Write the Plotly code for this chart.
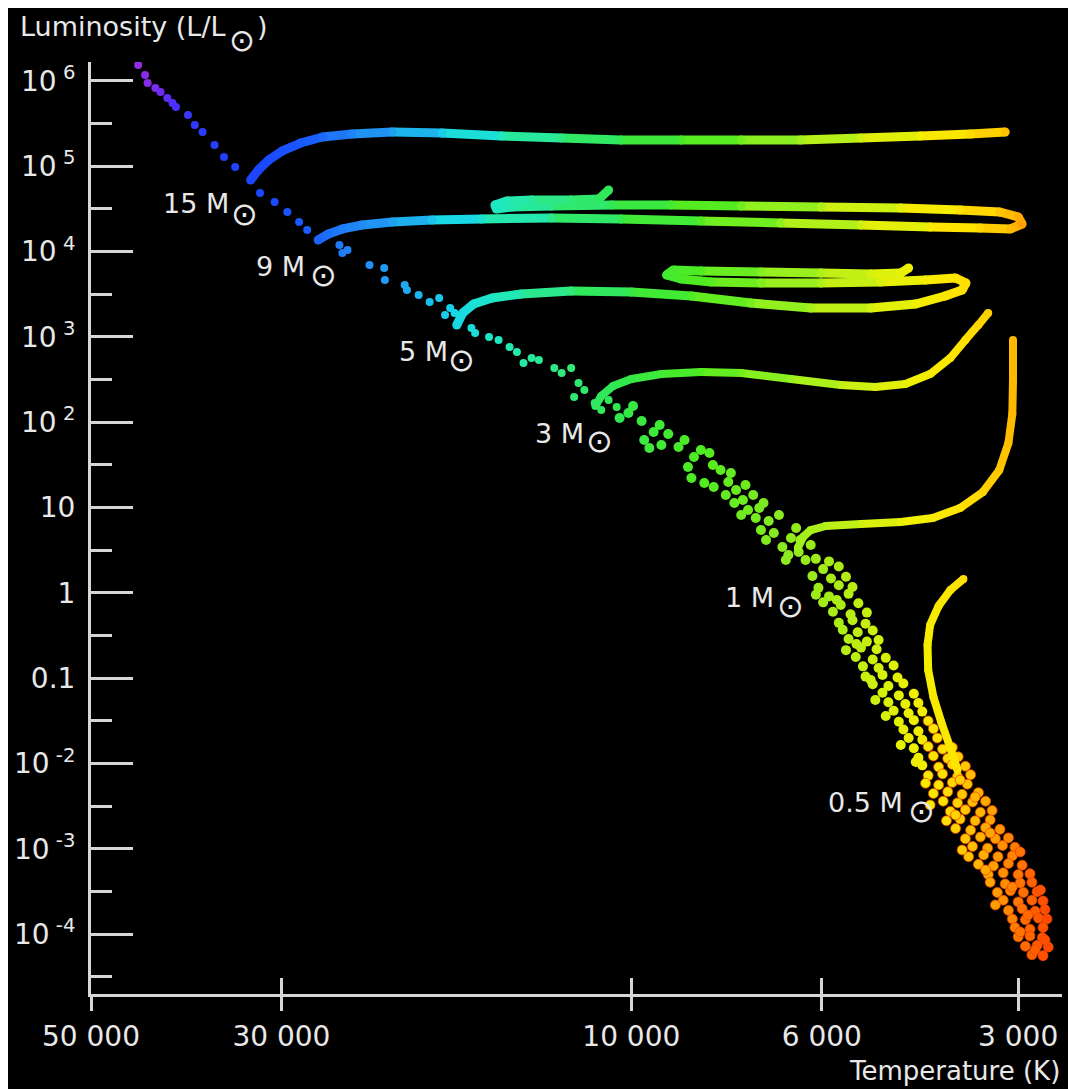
import numpy as np
import plotly.graph_objects as go

# ---------------- axis ticks ----------------
TEMP_TICKS = [50000, 30000, 10000, 6000, 3000]
TEMP_TICK_LABELS = ["50 000", "30 000", "10 000", "6 000", "3 000"]
LUM_TICKS = [1e6, 1e5, 1e4, 1e3, 1e2, 10, 1, 0.1, 1e-2, 1e-3, 1e-4]
LUM_TICK_LABELS = ["10<sup> 6</sup>", "10<sup> 5</sup>", "10<sup> 4</sup>", "10<sup> 3</sup>",
                   "10<sup> 2</sup>", "10", "1", "0.1", "10<sup> -2</sup>", "10<sup> -3</sup>",
                   "10<sup> -4</sup>"]

# ---------------- main sequence stars: (log10 Teff [K], log10 L/Lsun) ----------------
MS_UPPER = [
    (4.648, 6.270), (4.644, 6.188), (4.636, 6.070), (4.633, 5.977), (4.624, 5.918),
    (4.618, 5.871), (4.610, 5.801), (4.604, 5.742), (4.600, 5.695), (4.586, 5.602),
    (4.578, 5.484), (4.569, 5.402), (4.555, 5.250), (4.544, 5.109), (4.531, 4.992),
    (4.502, 4.688), (4.485, 4.582), (4.469, 4.465), (4.453, 4.348), (4.442, 4.254),
    (4.398, 4.078), (4.394, 3.984), (4.387, 4.019), (4.357, 3.844), (4.337, 3.809),
    (4.336, 3.668), (4.309, 3.609), (4.306, 3.551), (4.290, 3.492), (4.275, 3.410),
    (4.262, 3.457), (4.247, 3.340), (4.254, 3.258), (4.241, 3.281), (4.218, 3.105),
    (4.213, 3.047), (4.194, 3.000), (4.181, 2.965), (4.166, 2.883), (4.156, 2.824),
    (4.147, 2.695), (4.136, 2.754), (4.126, 2.730), (4.105, 2.637), (4.095, 2.578),
    (4.082, 2.637), (4.072, 2.461), (4.078, 2.297), (4.064, 2.379), (4.050, 2.226),
    (4.041, 2.144), (4.031, 2.262), (4.020, 2.180),
]
MS_MIDDLE = [
    (4.016, 2.051), (4.004, 2.109), (3.998, 2.191), (3.988, 2.016), (3.985, 1.793),
    (3.974, 1.887), (3.967, 1.969), (3.957, 1.863), (3.965, 1.734), (3.945, 1.711),
    (3.938, 1.793), (3.930, 1.348), (3.934, 1.476), (3.927, 1.594), (3.919, 1.676),
    (3.909, 1.641), (3.915, 1.289), (3.904, 1.242), (3.896, 1.441), (3.884, 1.406),
    (3.890, 1.148), (3.880, 1.055), (3.878, 1.207), (3.867, 1.266), (3.870, 1.090),
    (3.864, 0.973), (3.858, 1.148), (3.855, 0.879), (3.846, 1.055), (3.840, 0.844),
    (3.849, 0.738), (3.834, 0.703), (3.828, 0.914), (3.843, 0.621), (3.824, 0.539),
    (3.814, 0.644), (3.808, 0.762), (3.805, 0.480), (3.797, 0.387), (3.791, 0.562),
    (3.820, 0.387), (3.979, 1.699), (3.905, 1.500), (3.887, 1.301), (3.872, 0.914),
    (3.851, 0.996), (3.817, 0.445), (3.803, 0.621),
]
MS_LOWER = [
    (3.785, 0.40), (3.767, 0.37), (3.776, 0.28), (3.752, 0.31),
    (3.789, 0.20), (3.764, 0.17), (3.741, 0.19), (3.782, 0.06), (3.752, 0.09), (3.731, 0.07),
    (3.785, -0.02), (3.767, -0.04), (3.737, -0.01), (3.776, -0.11), (3.749, -0.14), (3.722, -0.12),
    (3.761, -0.22), (3.734, -0.25), (3.709, -0.23), (3.752, -0.35), (3.731, -0.32), (3.711, -0.36),
    (3.746, -0.43), (3.723, -0.46), (3.700, -0.44), (3.737, -0.54), (3.709, -0.57), (3.691, -0.55),
    (3.741, -0.67), (3.718, -0.64), (3.694, -0.66), (3.726, -0.75), (3.700, -0.78), (3.680, -0.76),
    (3.715, -0.86), (3.691, -0.88), (3.668, -0.85), (3.711, -0.98), (3.685, -0.96), (3.662, -0.99),
    (3.700, -1.07), (3.676, -1.09), (3.653, -1.06), (3.685, -1.17), (3.660, -1.20), (3.637, -1.18),
    (3.676, -1.28), (3.650, -1.30), (3.630, -1.29), (3.668, -1.38), (3.645, -1.41), (3.624, -1.39),
    (3.660, -1.51), (3.637, -1.49), (3.615, -1.50), (3.653, -1.60), (3.630, -1.62), (3.607, -1.59),
    (3.645, -1.70), (3.624, -1.72), (3.601, -1.70),
    (3.637, -1.82), (3.615, -1.80), (3.593, -1.83), (3.578, -1.81),
    (3.630, -1.93), (3.607, -1.91), (3.585, -1.94), (3.569, -1.92),
    (3.624, -2.02), (3.599, -2.04), (3.578, -2.01), (3.558, -2.03),
    (3.615, -2.14), (3.593, -2.12), (3.570, -2.15), (3.550, -2.13),
    (3.619, -2.23), (3.599, -2.25), (3.578, -2.22), (3.555, -2.24),
    (3.607, -2.35), (3.585, -2.33), (3.563, -2.36), (3.538, -2.34),
    (3.592, -2.44), (3.570, -2.46), (3.547, -2.45), (3.527, -2.44),
    (3.581, -2.56), (3.558, -2.54), (3.535, -2.57), (3.517, -2.55),
    (3.587, -2.67), (3.566, -2.65), (3.543, -2.67), (3.520, -2.66),
    (3.573, -2.76), (3.550, -2.78), (3.527, -2.75), (3.505, -2.77),
    (3.558, -2.88), (3.535, -2.86), (3.512, -2.88), (3.492, -2.87),
    (3.547, -2.97), (3.524, -2.99), (3.501, -2.96), (3.482, -2.98),
    (3.553, -3.09), (3.530, -3.07), (3.508, -3.09), (3.486, -3.08),
    (3.538, -3.18), (3.515, -3.20), (3.492, -3.17), (3.471, -3.19),
    (3.523, -3.30), (3.500, -3.28), (3.477, -3.30), (3.459, -3.29),
    (3.520, -3.39), (3.497, -3.41), (3.474, -3.40), (3.456, -3.39),
    (3.509, -3.51), (3.489, -3.49), (3.469, -3.51), (3.448, -3.50),
    (3.500, -3.60), (3.477, -3.62), (3.456, -3.60), (3.439, -3.61),
    (3.492, -3.72), (3.471, -3.70), (3.451, -3.73), (3.436, -3.71),
    (3.486, -3.82), (3.466, -3.83), (3.446, -3.81), (3.433, -3.82),
    (3.482, -3.92), (3.459, -3.94), (3.439, -3.92),
    (3.477, -4.03), (3.459, -4.02), (3.440, -4.04),
    (3.466, -4.14), (3.448, -4.13), (3.431, -4.15),
    (3.456, -4.24), (3.439, -4.25),
    (3.755, -0.082), (3.725, -0.598), (3.703, -1.020), (3.680, -1.442), (3.657, -1.782),
    (3.634, -1.981), (3.566, -2.192), (3.543, -2.391), (3.573, -2.602), (3.520, -2.813),
    (3.563, -3.012), (3.474, -3.035), (3.527, -3.246), (3.486, -3.446), (3.443, -3.481),
    (3.512, -3.656), (3.462, -3.774), (3.474, -3.973), (3.451, -4.184), (3.436, -4.067),
    (3.696, -1.254), (3.612, -2.485),
]

# ---------------- evolutionary tracks (log10 Teff, log10 L) ----------------
TRACK_15_LOGT = [4.513, 4.504, 4.492, 4.476, 4.451, 4.421, 4.381, 4.326, 4.258, 4.177,
                 4.095, 4.014, 3.942, 3.872, 3.803, 3.718, 3.627, 3.550, 3.497]
TRACK_15_LOGL = [4.840, 4.957, 5.074, 5.180, 5.273, 5.344, 5.379, 5.402, 5.391, 5.355,
                 5.332, 5.309, 5.309, 5.309, 5.309, 5.332, 5.355, 5.379, 5.402]

TRACK_9_LOGT = [4.427, 4.413, 4.394, 4.367, 4.326, 4.272, 4.204, 4.109, 4.014, 3.919,
                3.826, 3.718, 3.612, 3.535, 3.489, 3.471, 3.477, 3.505, 3.566, 3.657,
                3.779, 3.872, 3.954, 4.027, 4.109, 4.163, 4.184, 4.186, 4.170, 4.136,
                4.082, 4.044, 4.031]
TRACK_9_LOGL = [4.137, 4.207, 4.266, 4.312, 4.348, 4.371, 4.383, 4.395, 4.383, 4.359,
                4.336, 4.312, 4.289, 4.277, 4.266, 4.324, 4.406, 4.465, 4.488, 4.512,
                4.523, 4.535, 4.547, 4.547, 4.535, 4.523, 4.500, 4.547, 4.594, 4.605,
                4.605, 4.617, 4.723]

TRACK_5_LOGT = [4.238, 4.230, 4.215, 4.190, 4.150, 4.082, 4.000, 3.930, 3.861, 3.791,
                3.703, 3.634, 3.589, 3.563, 3.557, 3.573, 3.619, 3.688, 3.779, 3.849,
                3.907, 3.942, 3.959, 3.951, 3.919, 3.849, 3.779, 3.703, 3.657, 3.645]
TRACK_5_LOGL = [3.141, 3.281, 3.387, 3.457, 3.504, 3.539, 3.527, 3.480, 3.398, 3.340,
                3.340, 3.387, 3.480, 3.551, 3.633, 3.691, 3.668, 3.644, 3.633, 3.633,
                3.644, 3.680, 3.727, 3.785, 3.773, 3.762, 3.750, 3.738, 3.750, 3.809]

TRACK_3_LOGT = [4.049, 4.041, 4.025, 4.000, 3.965, 3.919, 3.872, 3.814, 3.749, 3.696,
                3.650, 3.612, 3.581, 3.558, 3.538, 3.523]
TRACK_3_LOGL = [2.191, 2.309, 2.426, 2.508, 2.566, 2.590, 2.578, 2.508, 2.437, 2.414,
                2.449, 2.566, 2.754, 2.965, 3.141, 3.281]

TRACK_1_LOGT = [3.806, 3.800, 3.791, 3.772, 3.718, 3.657, 3.608, 3.566, 3.531, 3.506,
                3.492, 3.486, 3.485, 3.485]
TRACK_1_LOGL = [0.527, 0.656, 0.738, 0.785, 0.809, 0.832, 0.879, 0.996, 1.184, 1.441,
                1.758, 2.098, 2.496, 2.965]

TRACK_05_LOGT = [3.561, 3.581, 3.599, 3.612, 3.616, 3.615, 3.607, 3.595, 3.581, 3.570]
TRACK_05_LOGL = [0.164, 0.035, -0.152, -0.375, -0.610, -0.902, -1.219, -1.512, -1.817, -2.074]

MASS_LABELS = ["15 M", "9 M", "5 M", "3 M", "1 M", "0.5 M"]

# ---------------- style / layout constants ----------------
OFFSET = 8                      # page body margin (left / top) of the html page
W, H = 1060, 1081
ML, MR, MT, MB = 80, 6, 54, 95
PW, PH = W - ML - MR, H - MT - MB
# schematic temperature axis: position (axis units) of each labelled temperature tick
TICK_POS = [0, 191, 542, 733, 930]
Y_RANGE = [-4.6995, 6.2226]
AXIS_COL = "#d6d6d6"
TEXT_COL = "#e8e8e8"
FONT = "DejaVu Sans"

# colour scales (log10 Teff -> colour)
STAR_CS = [(3.43, "#ff4800"), (3.48, "#ff7c00"), (3.53, "#ffb000"), (3.59, "#ffe200"),
           (3.64, "#eef000"), (3.70, "#ccf010"), (3.76, "#a8ec18"), (3.83, "#88ea20"),
           (3.92, "#50ec20"), (4.02, "#30e850"), (4.10, "#30e880"), (4.18, "#20e8c0"),
           (4.24, "#18d8e8"), (4.31, "#20a8f0"), (4.39, "#2080f8"), (4.44, "#1a5cff"),
           (4.50, "#1a48ff"), (4.57, "#2a3cff"), (4.60, "#4a30ff"), (4.624, "#7a2cf0"),
           (4.65, "#9b2ee0")]
TRACK_CS = [(3.46, "#ff9000"), (3.485, "#ffb800"), (3.50, "#ffc400"), (3.53, "#ffd400"),
            (3.57, "#ffe400"), (3.63, "#f2f000"), (3.70, "#d8f010"), (3.76, "#b8f018"),
            (3.83, "#90f020"), (3.92, "#50ec20"), (4.02, "#30e850"), (4.10, "#30e880"),
            (4.18, "#20e8c0"), (4.24, "#18d8e8"), (4.31, "#20a8f0"), (4.39, "#2080f8"),
            (4.44, "#1a5cff"), (4.50, "#1a48ff"), (4.57, "#2a3cff")]


def hex_rgb(h):
    h = h.lstrip("#")
    return [int(h[i:i + 2], 16) for i in (0, 2, 4)]


def color_of(logt, cs):
    xs = [c[0] for c in cs]
    rgb = np.array([hex_rgb(c[1]) for c in cs], dtype=float)
    r, g, b = (np.interp(logt, xs, rgb[:, k]) for k in range(3))
    return f"rgb({int(r)},{int(g)},{int(b)})"


def temp_axis(logt):
    """Map log10 T onto the (non-uniform) temperature axis of the original figure."""
    xp = -np.log10(np.array(TEMP_TICKS, dtype=float))
    fp = np.array(TICK_POS, dtype=float)
    v = -np.asarray(logt, dtype=float)
    out = np.interp(v, xp, fp)
    hi = v > xp[-1]
    out[hi] = fp[-1] + (v[hi] - xp[-1]) * (fp[-1] - fp[-2]) / (xp[-1] - xp[-2])
    lo = v < xp[0]
    out[lo] = fp[0] + (v[lo] - xp[0]) * (fp[1] - fp[0]) / (xp[1] - xp[0])
    return out


def paper(px, py):
    return (px - OFFSET - ML) / PW, (H - MB - (py - OFFSET)) / PH


fig = go.Figure()

# main-sequence dots (cool stars get a faint orange glow rim)
for pts, size in ((MS_UPPER, 8), (MS_MIDDLE, 10), (MS_LOWER, 10)):
    lt = np.array([p[0] for p in pts])
    ll = np.array([p[1] for p in pts])
    rims = ["rgba(235,70,0,0.75)" if t < 3.62 else "rgba(0,0,0,0)" for t in lt]
    fig.add_trace(go.Scatter(
        x=temp_axis(lt), y=10 ** ll, mode="markers", hoverinfo="skip", showlegend=False,
        marker=dict(size=size, color=[color_of(t, STAR_CS) for t in lt],
                    line=dict(width=1, color=rims))))

# evolutionary tracks drawn as colour-graded segments
tracks = [
    (TRACK_15_LOGT, TRACK_15_LOGL, 9),
    (TRACK_9_LOGT, TRACK_9_LOGL, 9),
    (TRACK_5_LOGT, TRACK_5_LOGL, 9),
    (TRACK_3_LOGT, TRACK_3_LOGL, 8),
    (TRACK_1_LOGT, TRACK_1_LOGL, 8),
    (TRACK_05_LOGT, TRACK_05_LOGL, 8),
]
for lt, ll, w in tracks:
    lt = np.array(lt)
    ll = np.array(ll)
    xs = temp_axis(lt)
    ys = 10 ** ll
    for i in range(len(lt) - 1):
        fig.add_trace(go.Scatter(
            x=[xs[i], xs[i + 1]], y=[ys[i], ys[i + 1]], mode="lines",
            line=dict(color=color_of((lt[i] + lt[i + 1]) / 2, TRACK_CS), width=w),
            hoverinfo="skip", showlegend=False))
    fig.add_trace(go.Scatter(
        x=xs, y=ys, mode="markers", hoverinfo="skip", showlegend=False,
        marker=dict(size=w, color=[color_of(t, TRACK_CS) for t in lt], line=dict(width=0))))

# dummy trace so the overlay axis (inner half of x ticks) is drawn
fig.add_trace(go.Scatter(x=[TICK_POS[0]], y=[1e-9], xaxis="x2", mode="markers",
                         marker=dict(opacity=0), hoverinfo="skip", showlegend=False))

annotations = []


def add_text(text, px, py, size, xanchor="left"):
    x, y = paper(px, py)
    annotations.append(dict(text=text, x=x, y=y, xref="paper", yref="paper",
                            xanchor=xanchor, yanchor="middle", showarrow=False,
                            font=dict(family=FONT, size=size, color=TEXT_COL)))


add_text("Luminosity (L/L", 15, 27, 27)
add_text("⊙", 239, 40, 31, "center")
add_text(")", 253, 27, 27)
add_text("Temperature (K)", 1062, 1071, 26, "right")

LABEL_TEXT_POS = [(228, 204), (305, 266), (448, 352), (585, 433), (775, 597), (905, 802)]
LABEL_SUN_POS = [(242, 214), (321, 275), (460, 360), (598, 441), (790, 606), (921, 811)]
for lab, (tx, ty), (sx, sy) in zip(MASS_LABELS, LABEL_TEXT_POS, LABEL_SUN_POS):
    add_text(lab, tx, ty, 27, "right")
    add_text("⊙", sx, sy, 32, "center")

tickfont = dict(family=FONT, size=28, color=TEXT_COL)
fig.update_layout(
    width=W, height=H,
    margin=dict(l=ML, r=MR, t=MT, b=MB, pad=0),
    paper_bgcolor="black", plot_bgcolor="black",
    showlegend=False,
    annotations=annotations,
    xaxis=dict(range=[0, PW], tickmode="array", tickvals=TICK_POS, ticktext=TEMP_TICK_LABELS,
               ticks="outside", ticklen=14, tickwidth=3, tickcolor=AXIS_COL,
               showline=True, linecolor=AXIS_COL, linewidth=3, showgrid=False, zeroline=False,
               tickfont=tickfont, ticklabelstandoff=1, fixedrange=True),
    xaxis2=dict(range=[0, PW], overlaying="x", anchor="y", side="bottom", tickmode="array",
                tickvals=TICK_POS, ticks="inside", ticklen=16, tickwidth=3, tickcolor=AXIS_COL,
                showticklabels=False, showline=False, showgrid=False, zeroline=False),
    yaxis=dict(type="log", range=Y_RANGE, tickmode="array", tickvals=LUM_TICKS,
               ticktext=LUM_TICK_LABELS, ticks="inside", ticklen=42, tickwidth=3,
               tickcolor=AXIS_COL, showline=True, linecolor=AXIS_COL, linewidth=3,
               showgrid=False, zeroline=False, tickfont=tickfont, ticklabelstandoff=7,
               minor=dict(tickmode="array", tickvals=[10 ** (k + 0.5) for k in range(-5, 6)],
                          ticks="inside", ticklen=21, tickwidth=3, tickcolor=AXIS_COL,
                          showgrid=False)),
)

fig.write_html(
    "out.html",
    post_script="document.body.style.margin='8px 0 0 8px';"
                "document.documentElement.style.overflow='hidden';"
                "document.body.style.overflow='hidden';")
